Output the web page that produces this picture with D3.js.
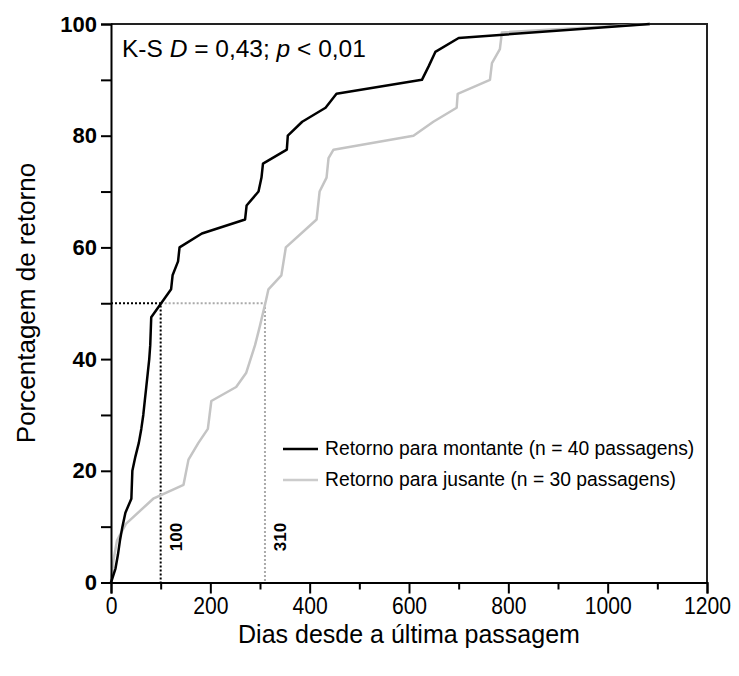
<!DOCTYPE html>
<html>
<head>
<meta charset="utf-8">
<script src="https://cdn.jsdelivr.net/npm/d3@7"></script>
<style>
  html, body { margin: 0; padding: 0; background: #fff; }
  svg { display: block; }
</style>
</head>
<body>
<div id="chart"></div>
<script>
// ── Data ─────────────────────────────────────
// Retorno para montante (n = 40)
const upDays = [0, 9, 14, 18, 23, 29, 41, 42, 43, 49, 56, 61, 65, 68, 71, 74, 77, 79, 80, 81,
                101, 121, 124, 135, 138, 183, 270, 273, 297, 303, 306, 354, 356, 385, 432, 454,
                626, 640, 653, 700, 1085];
const upPct  = [0, 2.5, 5, 7.5, 10, 12.5, 15, 17.5, 20, 22.5, 25, 27.5, 30, 32.5, 35, 37.5, 40,
                42.5, 45, 47.5, 50, 52.5, 55, 57.5, 60, 62.5, 65, 67.5, 70, 72.5, 75, 77.5, 80,
                82.5, 85, 87.5, 90, 92.5, 95, 97.5, 100];

// Retorno para jusante (n = 30)
const downDays = [0, 5, 12, 30, 85, 146, 156, 176, 195, 202, 252, 272, 290, 300, 312, 317, 343,
                  352, 414, 420, 434, 438, 448, 609, 649, 696, 698, 763, 767, 783, 787, 1085];
const downPct  = [0, 4, 7.5, 10.5, 15, 17.5, 22, 25, 27.5, 32.5, 35, 37.5, 42.5, 46, 50.5, 52.5,
                  55, 60, 65, 70, 72.5, 76, 77.5, 80, 82.5, 85, 87.5, 90, 93, 95.5, 98.5, 100];

// Median return (50 %)
const medianPct  = 50;
const medianUp   = 100;
const medianDown = 310;

const xTicks = [0, 100, 200, 300, 400, 500, 600, 700, 800, 900, 1000, 1100, 1200];
const yTicks = [0, 10, 20, 30, 40, 50, 60, 70, 80, 90, 100];

const legendLabels = ["Retorno para montante (n = 40 passagens)",
                      "Retorno para jusante (n = 30 passagens)"];

// ── Setup ────────────────────────────────────
const W = 739, H = 676;
const FONT = "'Liberation Sans', Arial, sans-serif";
const BLACK = "#000";
const GREY  = "#c4c4c4";

const svg = d3.select("#chart").append("svg").attr("width", W).attr("height", H);

const x = d3.scaleLinear().domain([0, 1200]).range([111, 707]);
const y = d3.scaleLinear().domain([0, 100]).range([582.5, 24]);

const up   = upDays.map((d, i) => [d, upPct[i]]);
const down = downDays.map((d, i) => [d, downPct[i]]);
const line = d3.line().x(d => x(d[0])).y(d => y(d[1]));

// Frame (top + right)
svg.append("path")
  .attr("d", `M${x(0)},${y(100)}H${x(1200)}V${y(0)}`)
  .attr("fill", "none").attr("stroke", "#222").attr("stroke-width", 2);

// Median dotted lines
svg.append("path")
  .attr("d", line([[medianUp, medianPct], [medianDown, medianPct], [medianDown, 0]]))
  .attr("fill", "none").attr("stroke", "#aaa").attr("stroke-width", 2)
  .attr("stroke-dasharray", "2,2");
svg.append("path")
  .attr("d", line([[0, medianPct], [medianUp, medianPct], [medianUp, 0]]))
  .attr("fill", "none").attr("stroke", BLACK).attr("stroke-width", 2)
  .attr("stroke-dasharray", "2,2");

// Curves
svg.append("path").attr("d", line(down))
  .attr("fill", "none").attr("stroke", GREY).attr("stroke-width", 2.5)
  .attr("stroke-linejoin", "round");
svg.append("path").attr("d", line(up))
  .attr("fill", "none").attr("stroke", BLACK).attr("stroke-width", 2.5)
  .attr("stroke-linejoin", "round");

// Median labels
[medianUp, medianDown].forEach(v => {
  svg.append("text")
    .attr("transform", `translate(${x(v) + 21},537) rotate(-90)`)
    .attr("text-anchor", "middle")
    .attr("font-family", FONT).attr("font-size", 17).attr("font-weight", "bold")
    .text(v);
});

// X axis
const xAxis = svg.append("g").attr("transform", `translate(0,${y(0)})`)
  .call(d3.axisBottom(x).tickValues(xTicks).tickSize(11)
    .tickFormat(d => d % 200 === 0 ? d : ""));
xAxis.select(".domain").attr("stroke", BLACK).attr("stroke-width", 2);
xAxis.selectAll(".tick line").attr("stroke", BLACK).attr("stroke-width", 2)
  .attr("y2", d => d % 200 === 0 ? 11 : 7);
xAxis.selectAll(".tick text").attr("font-family", FONT).attr("font-size", 24)
  .attr("fill", BLACK).attr("y", 14).attr("transform", "scale(0.88,1)");

// Y axis
const yAxis = svg.append("g").attr("transform", `translate(${x(0)},0)`)
  .call(d3.axisLeft(y).tickValues(yTicks).tickSize(10)
    .tickFormat(d => d % 20 === 0 ? d : ""));
yAxis.select(".domain").attr("stroke", BLACK).attr("stroke-width", 2);
yAxis.selectAll(".tick line").attr("stroke", BLACK).attr("stroke-width", 2);
yAxis.selectAll(".tick text").attr("font-family", FONT).attr("font-size", 22)
  .attr("font-weight", "bold").attr("fill", BLACK).attr("x", -14);

// Axis titles
svg.append("text").attr("x", 409).attr("y", 643).attr("text-anchor", "middle")
  .attr("font-family", FONT).attr("font-size", 25).text("Dias desde a última passagem");
svg.append("text").attr("transform", "translate(35,303) rotate(-90)")
  .attr("text-anchor", "middle")
  .attr("font-family", FONT).attr("font-size", 26).text("Porcentagem de retorno");

// K-S annotation
const ks = svg.append("text").attr("x", 122).attr("y", 57)
  .attr("font-family", FONT).attr("font-size", 24.5);
ks.append("tspan").text("K-S ");
ks.append("tspan").attr("font-style", "italic").text("D");
ks.append("tspan").text(" = 0,43; ");
ks.append("tspan").attr("font-style", "italic").text("p");
ks.append("tspan").text(" < 0,01");

// Legend
const legend = svg.append("g");
[BLACK, "#cccccc"].forEach((c, i) => {
  const ly = 449 + i * 31;
  legend.append("line").attr("x1", 283).attr("x2", 318).attr("y1", ly).attr("y2", ly)
    .attr("stroke", c).attr("stroke-width", 2.5);
  legend.append("text").attr("x", 325).attr("y", ly + 6)
    .attr("font-family", FONT).attr("font-size", 19.3).text(legendLabels[i]);
});
</script>
</body>
</html>
